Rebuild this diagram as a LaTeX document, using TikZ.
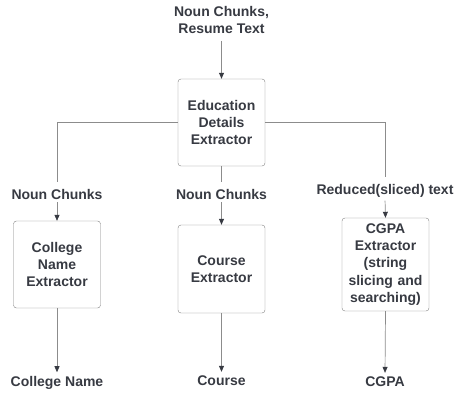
\documentclass[tikz,border=0pt]{standalone}
\usepackage{fontspec}
\setmainfont{Liberation Sans}
\usetikzlibrary{arrows.meta,positioning}
\definecolor{linegray}{HTML}{8C8C8C}
\definecolor{inkgray}{HTML}{373A42}
\definecolor{boxgray}{HTML}{808080}

\begin{document}
\begin{tikzpicture}[
            x=1pt, y=-1pt,
            font=\fontsize{14}{17.3}\selectfont\bfseries,
            text=inkgray,
            extractor/.style={rectangle, draw=boxgray, rounded corners=3pt, minimum width=87pt, minimum height=87pt, text width=80pt, align=center, inner sep=2pt},
            flow_label/.style={inner sep=1pt, align=center},
            plain_line/.style={draw=linegray, line width=0.7pt},
            feed_arrow/.style={plain_line, -{Triangle[length=6pt,width=5pt,color=inkgray]}}
        ]
        \useasboundingbox (0,0) rectangle (456,394);

        \node[flow_label] (resume_in) at (221.5,20) {Noun Chunks,\\Resume Text};

        \node[extractor] (edu_extractor) at (221.5,122.5) {Education\\Details\\Extractor};

        \node[flow_label] (chunks_left) at (57,194) {Noun Chunks};
        \node[flow_label] (chunks_mid) at (221.5,194) {Noun Chunks};
        \node[flow_label] (sliced_text) at (385,191) {Reduced(sliced) text};

        \node[extractor] (college_extractor) at (57,264.5) {College\\Name\\Extractor};
        \node[extractor, minimum height=88pt] (course_extractor) at (221.5,269) {Course\\Extractor};
        \node[extractor, minimum height=93pt] (cgpa_extractor) at (385.5,264.5) {CGPA\\Extractor\\(string\\slicing and\\searching)};

        \node[flow_label] (college_out) at (57,383) {College Name};
        \node[flow_label] (course_out) at (221.5,381) {Course};
        \node[flow_label] (cgpa_out) at (385,382) {CGPA};

        \draw[feed_arrow, shorten <=6pt] (resume_in.south) -- (edu_extractor.north);

        \draw[plain_line, shorten >=6pt] (edu_extractor.west) -| (chunks_left.north);
        \draw[plain_line, shorten >=6pt] (edu_extractor.south) -- (chunks_mid.north);
        \draw[plain_line, shorten >=6pt] (edu_extractor.east) -| (sliced_text.north);

        \draw[feed_arrow, shorten <=2pt] (chunks_left.south) -- (college_extractor.north);
        \draw[feed_arrow, shorten <=2pt] (chunks_mid.south) -- (course_extractor.north);
        \draw[feed_arrow, shorten <=2pt] (sliced_text.south) -- (cgpa_extractor.north);

        \draw[feed_arrow, shorten >=3pt] (college_extractor.south) -- (college_out.north);
        \draw[feed_arrow, shorten >=3pt] (course_extractor.south) -- (course_out.north);
        \draw[feed_arrow, shorten >=3pt] (cgpa_extractor.south) -- (cgpa_out.north);
\end{tikzpicture}
\end{document}
